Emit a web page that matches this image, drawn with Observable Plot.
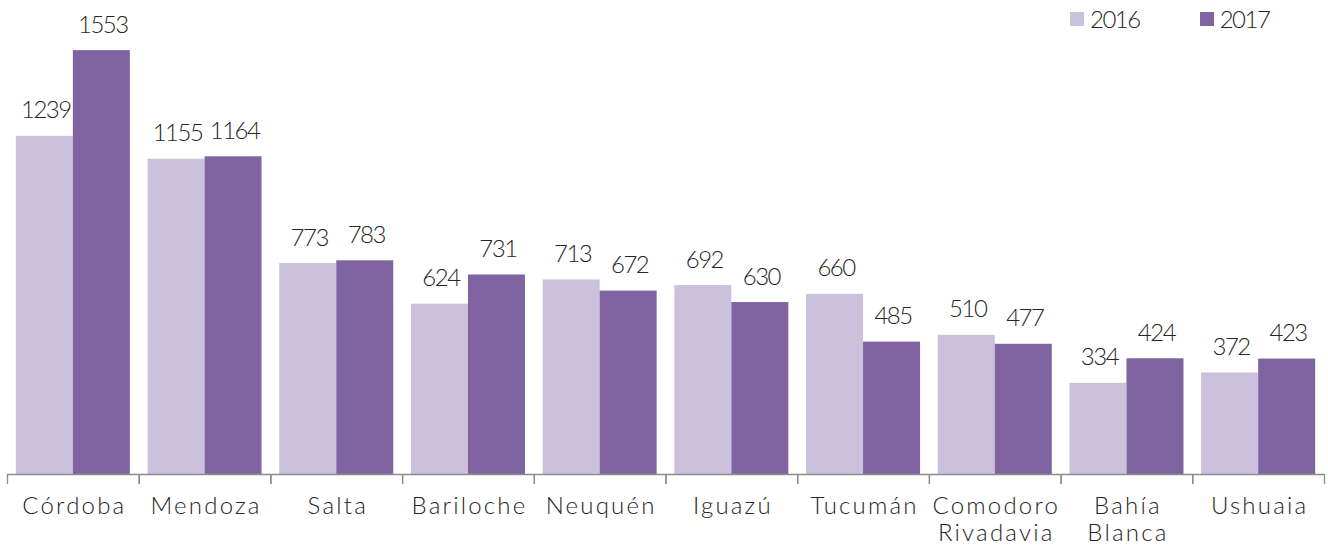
<!DOCTYPE html>
<html>
<head>
<meta charset="utf-8">
<script src="https://cdn.jsdelivr.net/npm/d3@7"></script>
<script src="https://cdn.jsdelivr.net/npm/@observablehq/plot@0.6"></script>
<style>
  body { margin: 0; background: #fff; font-family: Lato, "Open Sans", sans-serif; }
  #wrap { position: relative; width: 1328px; height: 547px; }
  #legend { position: absolute; top: 4px; left: 1070px; display: flex; font-size: 24px; letter-spacing: -1.5px; color: #262626; font-weight: 300; line-height: 30px; }
  .item { display: flex; align-items: center; }
  .sw { width: 14px; height: 14px; margin-right: 6px; }
  g[aria-label="fx-axis tick label"] text { letter-spacing: 2.2px; }
  g[aria-label="text"] text { letter-spacing: -1.5px; }
</style>
</head>
<body>
<div id="wrap">
  <div id="chart"></div>
  <div id="legend"></div>
</div>
<script>
const cities = ["Córdoba", "Mendoza", "Salta", "Bariloche", "Neuquén", "Iguazú", "Tucumán", "Comodoro\nRivadavia", "Bahía\nBlanca", "Ushuaia"];
const years = ["2016", "2017"];
const values2016 = [1239, 1155, 773, 624, 713, 692, 660, 510, 334, 372];
const values2017 = [1553, 1164, 783, 731, 672, 630, 485, 477, 424, 423];
const colors = ["#CBC1DC", "#8064A2"];

const data = [];
cities.forEach((c, i) => {
  data.push({city: c, year: years[0], value: values2016[i]});
  data.push({city: c, year: years[1], value: values2017[i]});
});

const W = 1328, H = 547, mL = 7, mR = 4;
const band = (W - mL - mR) / cities.length;

const chart = Plot.plot({
  width: W,
  height: H,
  marginLeft: mL,
  marginRight: mR,
  marginTop: 10,
  marginBottom: 73,
  style: {fontFamily: "Lato, 'Open Sans', sans-serif", fontWeight: 300, background: "#fff"},
  fx: {domain: cities, paddingInner: 0, paddingOuter: 0, round: false},
  x: {domain: years, paddingInner: 0, paddingOuter: 0.155, round: false, axis: null},
  y: {domain: [0, 1700], axis: null},
  color: {domain: years, range: colors},
  marks: [
    Plot.barY(data, {fx: "city", x: "year", y: "value", fill: "year"}),
    Plot.text(data, {fx: "city", x: "year", y: "value", text: d => String(d.value), lineAnchor: "bottom", dy: -18, dx: 1, fontSize: 24, fill: "#262626"}),
    Plot.ruleY([0], {stroke: "#8c8c8c", strokeWidth: 1.3}),
    Plot.axisFx({anchor: "bottom", tickSize: 10, dx: -band / 2, tickFormat: () => "", stroke: "#8c8c8c", strokeWidth: 1.3, label: null}),
    Plot.axisFx([cities[cities.length - 1]], {anchor: "bottom", tickSize: 10, dx: band / 2, tickFormat: () => "", stroke: "#8c8c8c", strokeWidth: 1.3, label: null}),
    Plot.axisFx({anchor: "bottom", tickSize: 0, tickPadding: 20, dx: 1, fontSize: 24, lineHeight: 1.13, fill: "#262626", label: null})
  ]
});
document.getElementById("chart").appendChild(chart);

const legend = document.getElementById("legend");
years.forEach((y, i) => {
  const it = document.createElement("div");
  it.className = "item";
  it.style.marginRight = i === 0 ? "60px" : "0";
  const sw = document.createElement("div");
  sw.className = "sw";
  sw.style.background = colors[i];
  const t = document.createElement("span");
  t.textContent = y;
  it.appendChild(sw);
  it.appendChild(t);
  legend.appendChild(it);
});
</script>
</body>
</html>
